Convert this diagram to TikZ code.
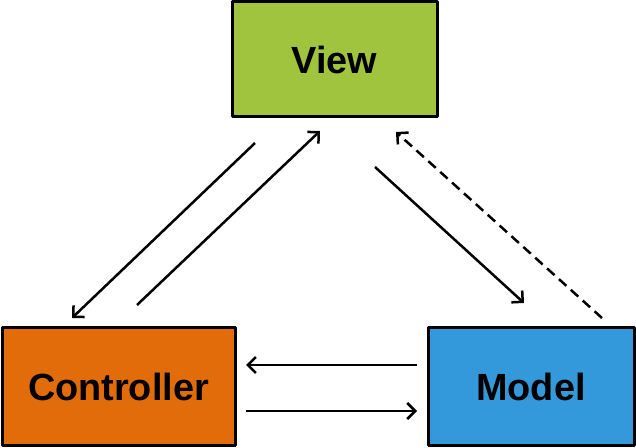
\documentclass[tikz,border=0pt]{standalone}
\usepackage{fontspec}
\setmainfont{Liberation Sans}
\usetikzlibrary{arrows.meta}

\definecolor{viewcol}{HTML}{A1C43F}
\definecolor{ctrlcol}{HTML}{E36C0A}
\definecolor{modelcol}{HTML}{3399DB}

\begin{document}
\begin{tikzpicture}[>={Straight Barb[length=8bp,width=16bp]},line join=bevel,
  box/.style={draw=black,line width=3bp,inner sep=0pt,
    font=\fontsize{38}{44}\selectfont\bfseries},
  edge/.style={->,line width=2.5bp}]
  \useasboundingbox[fill=white] (0bp,0bp) rectangle (636bp,448bp);
%%
  % Node: View
  \node[box,fill=viewcol,minimum width=205bp,minimum height=115bp] (view) at (334.5bp,388.5bp) {View};
  % Node: Controller
  \node[box,fill=ctrlcol,minimum width=233bp,minimum height=118bp] (ctrl) at (118.5bp,61bp) {Controller};
  % Node: Model
  \node[box,fill=modelcol,minimum width=206bp,minimum height=118bp] (model) at (531bp,61bp) {Model};
  % Edge ends
  \coordinate (vc1) at (255bp,305bp);
  \coordinate (vc2) at (72bp,130bp);
  \coordinate (cv1) at (137bp,143bp);
  \coordinate (cv2) at (320bp,317bp);
  \coordinate (vm1) at (375bp,281bp);
  \coordinate (vm2) at (524bp,145bp);
  \coordinate (mv1) at (602bp,130bp);
  \coordinate (mv2) at (396bp,316bp);
  \coordinate (mc1) at (417bp,83bp);
  \coordinate (mc2) at (246bp,83bp);
  \coordinate (cm1) at (246bp,37bp);
  \coordinate (cm2) at (417bp,37bp);
  % Edge: View -> Controller
  \draw [edge] (vc1) -- (vc2);
  % Edge: Controller -> View
  \draw [edge] (cv1) -- (cv2);
  % Edge: View -> Model
  \draw [edge] (vm1) -- (vm2);
  % Edge: Model -> View
  \draw [edge,dash pattern=on 10bp off 6bp] (mv1) -- (mv2);
  % Edge: Model -> Controller
  \draw [edge] (mc1) -- (mc2);
  % Edge: Controller -> Model
  \draw [edge] (cm1) -- (cm2);
%
\end{tikzpicture}
\end{document}
